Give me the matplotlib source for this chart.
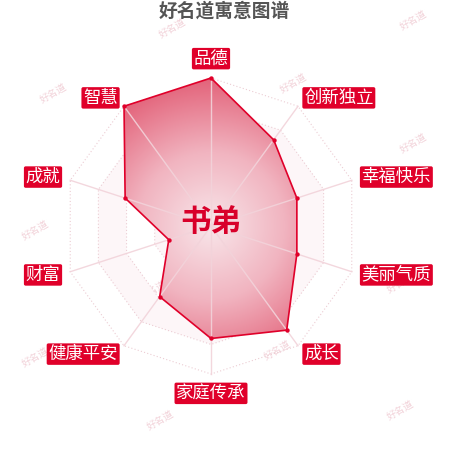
import numpy as np
import matplotlib
matplotlib.use("Agg")
import matplotlib.pyplot as plt
from matplotlib.colors import LinearSegmentedColormap
from matplotlib.patches import Polygon

plt.rcParams['font.family'] = ['Noto Sans CJK SC', 'DejaVu Sans']

# data
title = "好名道寓意图谱"
name = "书弟"
labels = ["品德", "创新独立", "幸福快乐", "美丽气质", "成长",
          "家庭传承", "健康平安", "财富", "成就", "智慧"]
values = [100, 72, 61, 61, 87, 76, 59, 30, 61, 100]
max_value = 100
rings = [20, 40, 60, 80, 100]

# watermark spots (pixel positions in the 450x450 picture)
wm_x = [172, 413, 53, 293, 413, 35, 400, 153, 35, 277, 160, 400]
wm_y = [28, 20, 93, 83, 143, 230, 283, 290, 357, 350, 420, 410]

RED = '#e0002a'
px = 1.48  # pixels per unit
cx, cy = 211, 226

fig = plt.figure(figsize=(4.5, 4.5), dpi=100)
ax = fig.add_axes([0, 0, 1, 1])
ax.set_xlim(-cx / px, (450 - cx) / px)
ax.set_ylim(-(450 - cy) / px, cy / px)
ax.set_aspect('equal')
ax.axis('off')

n = len(labels)
theta = np.arange(n) * 2 * np.pi / n
sx, sy = np.sin(theta), np.cos(theta)

# watermarks
for x, y in zip(wm_x, wm_y):
    ax.text((x - cx) / px, (cy - y) / px, "好名道", fontsize=7, color='#f2d2d9',
            rotation=30, ha='center', va='center', zorder=0)

# split areas + rings
for i, r in enumerate(rings):
    if i % 2 == 1:
        outer = np.column_stack([r * sx, r * sy])
        inner = np.column_stack([rings[i - 1] * sx, rings[i - 1] * sy])
        ax.fill(np.r_[outer[:, 0], outer[0, 0], inner[::-1, 0], inner[-1, 0]],
                np.r_[outer[:, 1], outer[0, 1], inner[::-1, 1], inner[-1, 1]],
                color='#fdf6f8', lw=0, zorder=1)
for r in rings:
    ax.plot(np.r_[r * sx, r * sx[0]], np.r_[r * sy, r * sy[0]],
            color='#ecccd3', lw=0.8, ls=(0, (1, 2)), zorder=2)

# gradient fill of the data polygon
vals = np.array(values, dtype=float)
px_ = vals * sx
py_ = vals * sy
poly = Polygon(np.column_stack([px_, py_]), closed=True, facecolor='none',
               edgecolor='none')
ax.add_patch(poly)
g = np.linspace(-max_value, max_value, 400)
gx, gy = np.meshgrid(g, g)
dist = np.sqrt(gx ** 2 + gy ** 2) / max_value
cmap = LinearSegmentedColormap.from_list('fillgrad', ['#f8e6ea', '#f1b4c0', '#e3637a'])
im = ax.imshow(dist, extent=[-max_value, max_value, -max_value, max_value],
               origin='lower', cmap=cmap, vmin=0, vmax=1, zorder=3,
               interpolation='bilinear')
im.set_clip_path(poly)

# radial axis lines
for a, b in zip(sx, sy):
    ax.plot([0, max_value * a], [0, max_value * b], color='#f2d3da', lw=1,
            alpha=0.9, zorder=4)

ax.plot(np.r_[px_, px_[0]], np.r_[py_, py_[0]], color=RED, lw=1.2, zorder=5)
ax.scatter(px_, py_, s=10, color=RED, zorder=6, linewidths=0)

# axis names
lr = 107
for lab, a, b in zip(labels, sx, sy):
    if abs(a) < 1e-6:
        ha = 'center'
        va = 'bottom' if b > 0 else 'top'
    else:
        ha = 'left' if a > 0 else 'right'
        va = 'center'
    ax.text(lr * a, lr * b, lab, fontsize=12.5, color='white', ha=ha, va=va,
            zorder=7,
            bbox=dict(boxstyle='round,pad=0.1,rounding_size=0.1', fc=RED, ec='none'))

ax.text(0, (cy - 222) / px, name, fontsize=22, fontweight='bold', color='#d8002a',
        ha='center', va='center', zorder=8)
ax.text((224 - cx) / px, (cy - 11) / px, title, fontsize=13.5, fontweight='bold',
        color='#555555', ha='center', va='center', zorder=8)

fig.savefig("out.png", dpi=100)
